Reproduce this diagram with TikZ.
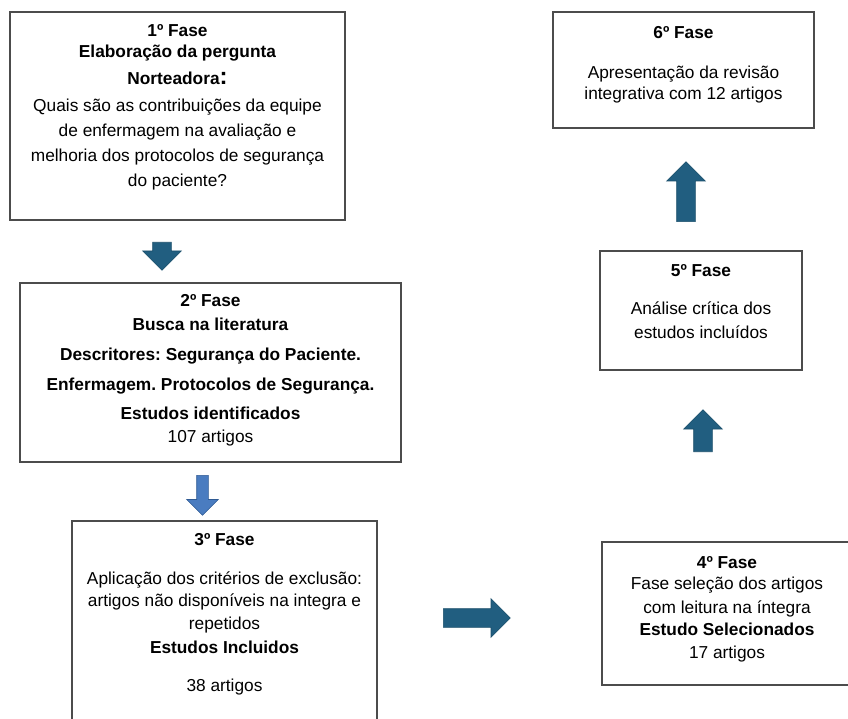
\documentclass[tikz,border=0pt]{standalone}
\usepackage{fontspec}
\setmainfont{Liberation Sans}
\usetikzlibrary{positioning, shapes.arrows}

\definecolor{arrowteal}{HTML}{215E80}
\definecolor{arrowedge}{HTML}{1B4F6B}
\definecolor{arrowblue}{HTML}{4A7CC0}
\definecolor{arrowblueedge}{HTML}{2F5A93}

\begin{document}
\begin{tikzpicture}[
    x=1pt, y=-1pt,
    every node/.style={font=\fontsize{17.3}{25}\selectfont\frenchspacing},
    phase/.style={draw=black!70, line width=1.3pt, inner sep=0pt},
    phasetext/.style={align=center, inner sep=0pt},
    bigarrow/.style={single arrow, fill=arrowteal, draw=arrowedge, line width=0.6pt,
        inner sep=9pt, single arrow head extend=10pt, minimum height=#1, anchor=tail}
]
\useasboundingbox[fill=white] (0,0) rectangle (848,719);

% boxes of the phases
\node[phase, minimum width=335pt, minimum height=208pt] (f1) at (177.5,116) {};
\node[phase, minimum width=381pt, minimum height=179pt] (f2) at (210.5,372.5) {};
\node[phase, minimum width=305pt, minimum height=212pt] (f3) at (224.5,627) {};
\node[phase, minimum width=250pt, minimum height=143pt] (f4) at (727,613.5) {};
\node[phase, minimum width=202pt, minimum height=119pt] (f5) at (701,310.5) {};
\node[phase, minimum width=261pt, minimum height=116pt] (f6) at (683.5,70) {};

% texts
\node[phasetext, below=13pt of f1.north] (t1) {\textbf{1º Fase}\\[-4pt]
    \textbf{Elaboração da pergunta}\\[2pt]
    \textbf{Norteadora{\fontsize{24}{25}\selectfont:}}\\[2pt]
    Quais são as contribuições da equipe\\
    de enfermagem na avaliação e\\
    melhoria dos protocolos de segurança\\
    do paciente?};
\node[phasetext, below=12pt of f2.north] (t2) {\textbf{2º Fase}\\[-1pt]
    \textbf{Busca na literatura}\\[5pt]
    \textbf{Descritores: Segurança do Paciente.}\\[5pt]
    \textbf{Enfermagem. Protocolos de Segurança.}\\[4pt]
    \textbf{Estudos identificados}\\[-2pt]
    107 artigos};
\node[phasetext, below=13pt of f3.north] (t3) {\textbf{3º Fase}\\[14pt]
    Aplicação dos critérios de exclusão:\\[-3pt]
    artigos não disponíveis na integra e\\[-2pt]
    repetidos\\[-1pt]
    \textbf{Estudos Incluidos}\\[13pt]
    38 artigos};
\node[phasetext, below=15pt of f4.north] (t4) {\textbf{4º Fase}\\[-4pt]
    Fase seleção dos artigos\\[-1pt]
    com leitura na íntegra\\[-3pt]
    \textbf{Estudo Selecionados}\\[-2pt]
    17 artigos};
\node[phasetext, below=14pt of f5.north] (t5) {\textbf{5º Fase}\\[13pt]
    Análise crítica dos\\[-1pt]
    estudos incluídos};
\node[phasetext, below=15pt of f6.north] (t6) {\textbf{6º Fase}\\[15pt]
    Apresentação da revisão\\[-4pt]
    integrativa com 12 artigos};

% block arrows
\node[bigarrow=28pt, rotate=-90] (a12) at (162,242) {};
\node[bigarrow=40pt, rotate=-90, fill=arrowblue, draw=arrowblueedge, inner sep=5.5pt] (a23) at (202.5,475) {};
\node[bigarrow=67pt] (a34) at (443,618) {};
\node[bigarrow=42pt, rotate=90] (a45) at (703,452) {};
\node[bigarrow=60pt, rotate=90] (a56) at (686,222) {};

\end{tikzpicture}
\end{document}
